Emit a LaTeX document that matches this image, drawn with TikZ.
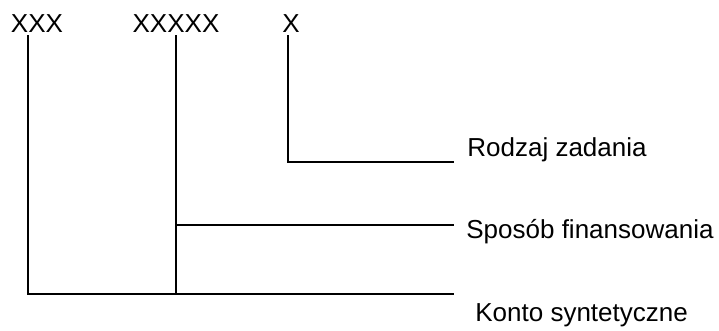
\documentclass[tikz,border=0pt]{standalone}
\usepackage{fontspec}
\setmainfont{Liberation Sans}
\usepackage{tikz}
\usetikzlibrary{
    calc,
    positioning
}

\begin{document}
\begin{tikzpicture}[x=0.5pt, y=-0.5pt,
        code/.style={inner sep=1.5pt, anchor=base, font=\fontsize{13}{15}\selectfont},
        lbl/.style={inner sep=0pt, anchor=base west, font=\fontsize{13}{15}\selectfont},
        conn/.style={line width=1pt, line cap=rect}]
                                \useasboundingbox (0, 0) rectangle (719, 331);
                                \node[code] (xxx) at (37, 33) {XXX};
                                \node[code] (xxxxx) at (176, 33) {XXXXX};
                                \node[code] (x) at (291, 33) {X};
                                \coordinate (endzad) at (453, 162);
                                \coordinate (endfin) at (453, 225);
                                \coordinate (endkon) at (453, 294);
                                \node[lbl] (zad) at (467, 157) {Rodzaj zadania};
                                \node[lbl] (fin) at (466, 239) {Sposób finansowania};
                                \node[lbl] (kon) at (475, 322) {Konto syntetyczne};
                                \draw[conn] ([xshift=-1.5pt]x.south) |- (endzad);
                                \draw[conn] (xxxxx.south) |- (endfin);
                                \draw[conn] (xxxxx.south) -- (xxxxx.south |- endkon);
                                \draw[conn] ([xshift=-4.5pt]xxx.south) |- (endkon);
                            \end{tikzpicture}
\end{document}
